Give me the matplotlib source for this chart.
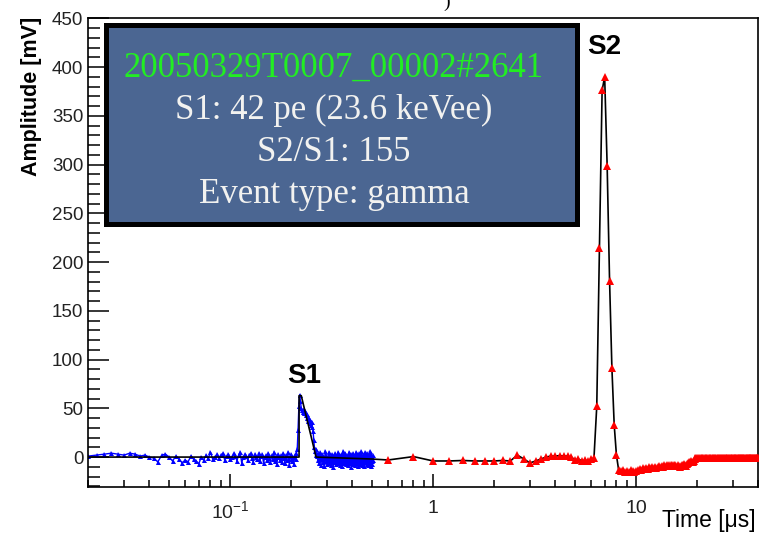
import numpy as np
import matplotlib
matplotlib.use('Agg')
import matplotlib.pyplot as plt
from matplotlib.patches import Rectangle
from matplotlib.transforms import blended_transform_factory
from matplotlib.ticker import FixedLocator, FixedFormatter, MultipleLocator, NullFormatter, LogLocator

plt.rcParams['font.family'] = ['Liberation Sans', 'DejaVu Sans']
plt.rcParams['mathtext.fontset'] = 'custom'
plt.rcParams['mathtext.rm'] = 'Liberation Sans'
plt.rcParams['mathtext.it'] = 'Liberation Sans'

# fast digitiser channel (blue), 2 ns samples starting at 0.020 us  [mV]
blue_t0 = 0.020
blue_dt = 0.002
blue_amp = [
    1, 2, 3, 4, 3, 2, 4, 3, 1, 2,
    0, -1, -5, 2, 3, 0, -4, 1, -2, -6,
    -3, -5, 1, -2, -4, -7, 0, -3, 2, -1,
    5, -2, 0, 3, -1, 2, 4, -3, 1, 3,
    -2, 0, 4, 1, -4, 2, 5, -6, 0, 3,
    1, -3, 2, 4, -1, -5, 3, 0, -2, 4,
    -4, 1, 3, -6, 0, 2, -3, 4, -1, -5,
    2, -2, 5, -4, 1, -7, 3, 0, -3, 2,
    -5, 4, -1, -6, 2, -3, 5, -2, -8, 1,
    3, -4, 0, -7, 2, -2, 4,
    # S1 pulse
    8, 28, 52, 64, 57, 50, 48, 46, 49, 45,
    47, 43, 40, 44, 37, 40, 35, 38, 33, 36,
    31, 27, 18, 10, 6, 2, 8, 1,
    # tail
    -3, 4, -6, 0, 5, -8, -2, 3, -5, 1,
    -9, -1, 6, -4, 2, -7, 0, -3, 5, -6,
    1, -2, -8, 3, -4, 0, -10, 2, -5, 4,
    -3, -7, 1, -1, -6, 5, -4, -2, 2, -8,
    0, -5, 3, -9, -1, 6, -3, -6, 1, -4,
    4, -2, -7, 0, -5, 2, -8, -3, 5, -1,
    -6, 3, -4, -10, 1, -2, 4, -7, 0, -5,
    2, -3, -8, 5, -1, -6, 3, -4, -9, 0,
    -2, 4, -7, 1, -5, -3, 6, -8, 2, -4,
    -1, -6, 3, -9, 0, -3, 5, -5, -2, 1,
    -7, 4, -4, -1, -8, 2, -3, -6, 6, -2,
    -5, 1, -9, 3, -4, 0, -7, 2, -3,
]

# slow channel (red), 0.2 us samples starting at 0.6 us  [mV]
red_t0 = 0.6
red_dt = 0.2
red_amp = [
    -3, 0.5,
    -4, -4, -3.5, -4, -4,          # 1.0 - 1.8
    -4, -3.5, -4, 2, -2,           # 2.0 - 2.8
    -6, -4, -2, 0, 1,              # 3.0
    1, 1.5, 1, 1, 0,               # 4.0
    -3, -2, -4, -3, -4,            # 5.0
    -2, -1, 52, 214, 376,          # 6.0
    390, 299, 181, 91, 33,         # 7.0
    2, -13, -14, -13, -15,         # 8.0
    -14, -15, -13, -14, -15,       # 9.0
    -14, -13, -12, -13, -11,       # 10
    -12, -11, -12, -10, -11,       # 11
    -10, -11, -10, -11, -10,       # 12
    -9, -10, -9, -10, -8,          # 13
    -9, -8, -9, -8, -8,            # 14
    -8, -9, -8, -8, -9,            # 15
    -8, -9, -10, -9, -8,           # 16
    -8, -7, -8, -9, -7,            # 17
    -6, -5, -5, -4, -5,            # 18
    -5, -4, -2, -1, -1,            # 19
    -1, -1, -1, -1, -1, -1, -1, -1, -1, -1,   # 20 - 21.8
    -1, -1, -1, -1, -1, -1, -1, -1, -1, -1,
    -1, -1, -1, -1, -1, -1, -1, -1, -1, -1,
    -1, -1, -1, -1, -1, -1, -1, -1, -1, -1,
    -1, -1, -1, -1, -1, -1, -1, -1, -1, -1,
    -1, -1, -1, -1, -1, -1, -1, -1, -1, -1,
    -1, -1, -1, -1, -1, -1, -1, -1, -1, -1,
    -1, -1, -1, -1, -1, -1, -1, -1, -1, -1,
    -1, -1, -1, -1, -1, -1, -1, -1, -1, -1,
    -1, -1, -1, -1, -1, -1, -1, -1, -1, -1,   # 38 - 39.8
    -1,
]

# coarse envelope drawn over the S1 region
s1_env_t = [0.020, 0.2185, 0.2185, 0.224, 0.265, 0.50, 0.60]
s1_env_a = [0, 0, 63, 63, 0, -2, -3]

info_lines = ['S1: 42 pe (23.6 keVee)', 'S2/S1: 155', 'Event type: gamma']
event_id = '20050329T0007_00002#2641'

blue_t = blue_t0 + blue_dt * np.arange(len(blue_amp))
red_t = red_t0 + red_dt * np.arange(len(red_amp))

W, H = 763, 537
fig = plt.figure(figsize=(W / 100, H / 100), dpi=100)
ax = fig.add_axes([88.3 / W, 1 - 487.3 / H, 670 / W, 469 / H])

ax.plot(blue_t, blue_amp, color='#0000ff', lw=1.0, marker='^', ms=3.6,
        markeredgewidth=0, zorder=2)
ax.plot(s1_env_t, s1_env_a, color='black', lw=1.2, zorder=3)
ax.plot(red_t, red_amp, color='black', lw=1.2, zorder=3)
ax.plot(red_t, red_amp, ls='none', color='#ff0000', marker='^', ms=5.2,
        markeredgewidth=0, zorder=4)

ax.set_xscale('log')
ax.set_xlim(0.02, 40)
ax.set_ylim(-31, 450)

ax.xaxis.set_major_locator(FixedLocator([0.1, 1, 10]))
ax.xaxis.set_major_formatter(FixedFormatter(['$10^{-1}$', '1', '10']))
ax.xaxis.set_minor_locator(LogLocator(base=10, subs=np.arange(2, 10)))
ax.xaxis.set_minor_formatter(NullFormatter())
ax.yaxis.set_major_locator(MultipleLocator(50))
ax.yaxis.set_minor_locator(MultipleLocator(10))

ax.tick_params(axis='x', which='major', direction='in', length=9.5, width=1.1,
               pad=9, labelsize=14, top=False, labelcolor='#222222')
ax.tick_params(axis='x', which='minor', direction='in', length=5, width=1.1, top=False)
ax.tick_params(axis='y', which='major', direction='in', length=15, width=1.1,
               pad=3.5, labelsize=13.5, right=False, labelcolor='#222222')
ax.tick_params(axis='y', which='minor', direction='in', length=8.4, width=1.1, right=False)
for sp in ax.spines.values():
    sp.set_linewidth(1.2)

# axis titles (ROOT style, at the ends of the axes)
fig.text(32 / W, 1 - 17 / H, 'Amplitude [mV]', rotation=90, ha='center', va='top',
         fontsize=15.5, fontweight='bold')
fig.text(756 / W, 1 - 527 / H, 'Time [\u03bcs]', ha='right', va='baseline', fontsize=16.5)

# peak labels
mixed = blended_transform_factory(ax.transData, fig.transFigure)
ax.text(0.232, 1 - 376 / H, 'S1', transform=mixed, fontsize=20, fontweight='bold',
        ha='center', va='center')
ax.text(7.0, 1 - 47 / H, 'S2', transform=mixed, fontsize=20, fontweight='bold',
        ha='center', va='center')

# event info box
x0, x1, y0, y1 = 105.8, 576.8, 25.2, 224.2
box = Rectangle((x0 / W, 1 - y1 / H), (x1 - x0) / W, (y1 - y0) / H,
                transform=fig.transFigure, facecolor='#4b6692', edgecolor='black',
                linewidth=3.6, zorder=5)
fig.add_artist(box)
cx = 334 / W
serif = ['Liberation Serif', 'DejaVu Serif']
fig.text(cx, 1 - 77 / H, event_id, ha='center', va='baseline', fontsize=25,
         family=serif, color='#22ee22', zorder=6)
for line, yb in zip(info_lines, [119, 161, 203]):
    fig.text(cx, 1 - yb / H, line, ha='center', va='baseline', fontsize=25,
             family=serif, color='#f2f2f0', zorder=6)

# cut-off character of the original title at the top edge
fig.text(447 / W, 1 - 2 / H, ')', ha='center', va='center', fontsize=14, family=serif)

fig.savefig('out.png', dpi=100)
